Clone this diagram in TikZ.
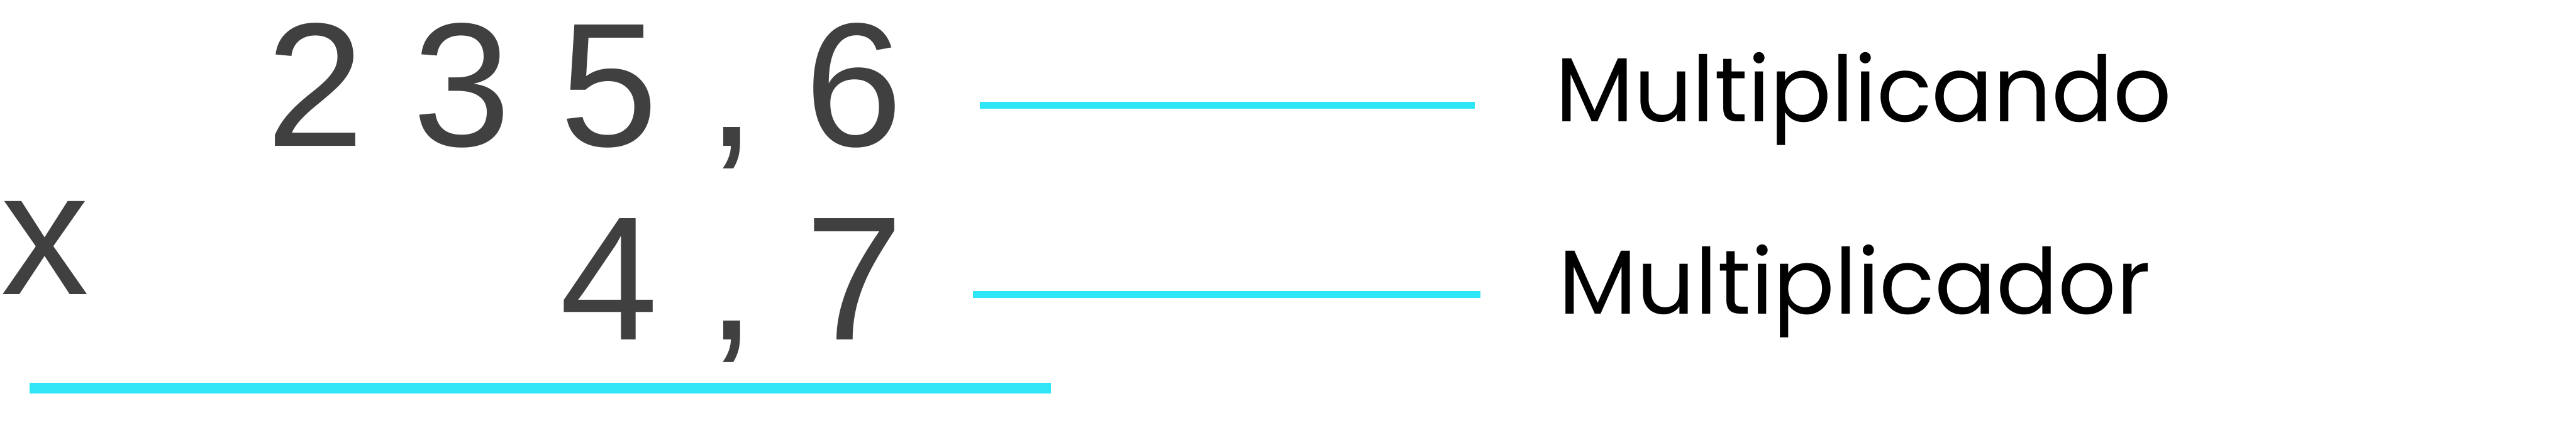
\documentclass[tikz,border=0pt]{standalone}
\usepackage{fontspec}
\usepackage{xcolor}
\usepackage{tikz}
\usetikzlibrary{positioning}
\newfontfamily\numfont{Liberation Sans}
\newfontfamily\lblfont{Poppins}
\definecolor{digitgray}{HTML}{404040}
\definecolor{guidecyan}{HTML}{2EE6F5}
\newcommand{\gapsp}{\hspace{1.14cm}}

\begin{document}
\begin{tikzpicture}[
      digits/.style = {inner sep=0pt, text=digitgray,
                       font=\numfont\fontsize{117}{140}\selectfont},
      lbl/.style    = {inner sep=0pt, text=black, anchor=base west,
                       font=\lblfont\fontsize{60.4}{70}\selectfont},
      guide/.style  = {draw=guidecyan, line width=4.6pt},
      rule/.style   = {draw=guidecyan, line width=7.1pt}
    ]
    \useasboundingbox (0,0) rectangle (60.04,-10.25);

    % the two factors
    \node[digits, anchor=base east] (top)   at (21.06,-3.41) {2\gapsp 3\gapsp 5\gapsp,\gapsp 6};
    \node[digits, anchor=base east] (bot)   at (21.06,-7.93) {4\gapsp,\gapsp 7};
    \node[digits, anchor=base west] (times) at (0.02,-6.87)  {x};

    % names of the factors
    \node[lbl] (mcando) at (36.25,-2.84) {Multiplicando};
    \node[lbl] (mcador) at (36.32,-7.32) {Multiplicador};

    % guide lines
    \coordinate (g1a) at (22.83,-2.46);
    \coordinate (g1b) at (34.37,-2.46);
    \coordinate (g2a) at (22.68,-6.87);
    \coordinate (g2b) at (34.50,-6.87);
    \draw[guide] (g1a) -- (g1b);
    \draw[guide] (g2a) -- (g2b);

    % result rule
    \coordinate (ra) at (0.69,-9.055);
    \coordinate (rb) at (24.49,-9.055);
    \draw[rule] (ra) -- (rb);
  \end{tikzpicture}
\end{document}
